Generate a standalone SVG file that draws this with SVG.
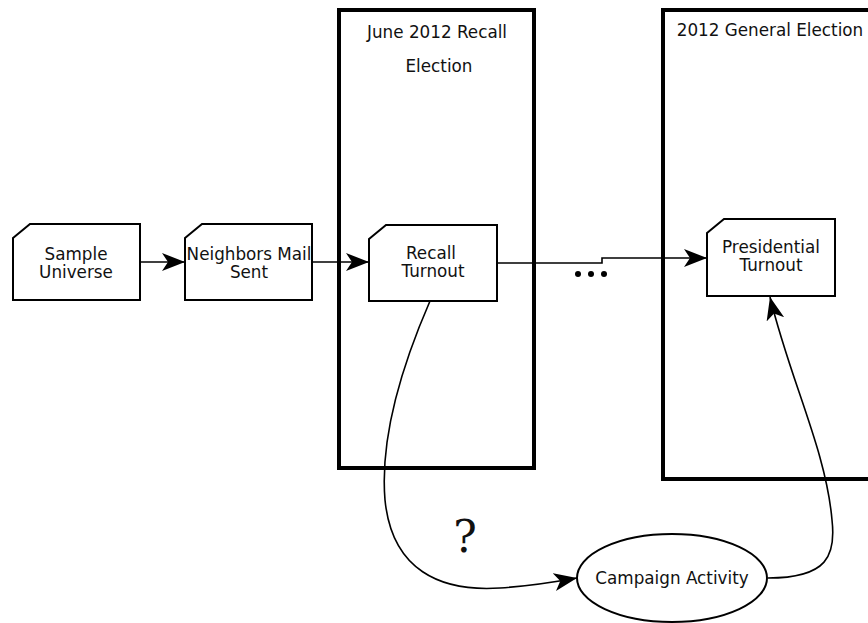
<svg xmlns="http://www.w3.org/2000/svg" width="868" height="623" viewBox="0 0 868 623">
  <style>
    .frame { fill: none; stroke: #000; stroke-width: 4; }
    .card { fill: #fff; stroke: #000; stroke-width: 2; stroke-linejoin: miter; }
    .oval { fill: #fff; stroke: #000; stroke-width: 2; }
    .lbl { font-family: "DejaVu Sans", sans-serif; font-size: 16.8px; fill: #111; text-anchor: middle; }
    .edge { fill: none; stroke: #000; stroke-width: 1.6; }
    .q { font-family: "DejaVu Serif", "Liberation Serif", serif; font-size: 44px; fill: #111; text-anchor: middle; }
  </style>
  <defs>
    <marker id="arrow" markerUnits="userSpaceOnUse" markerWidth="26" markerHeight="20" refX="23" refY="10" orient="auto">
      <path d="M0,1 L23,10 L0,19 L6,10 Z" fill="#000"/>
    </marker>
  </defs>
  <rect width="868" height="623" fill="#fff"/>

  <!-- election period frames -->
  <g id="recall-election">
    <rect class="frame" x="339" y="10" width="195" height="458"/>
    <text class="lbl" x="437" y="38">June 2012 Recall</text>
    <text class="lbl" x="439" y="72">Election</text>
  </g>
  <g id="general-election">
    <path class="frame" d="M872,10 H663 V479 H872"/>
    <text class="lbl" x="770" y="36">2012 General Election</text>
  </g>

  <!-- connectors -->
  <g id="connectors">
    <path class="edge" d="M140,262 H185" marker-end="url(#arrow)"/>
    <path class="edge" d="M312,262 H369" marker-end="url(#arrow)"/>
    <path class="edge" d="M497,263 H602 V258 H707" marker-end="url(#arrow)"/>
    <path class="edge" d="M430,301 C400,370 380,440 385,500 C392,570 440,592 500,588 C530,586 555,582 577,578" marker-end="url(#arrow)"/>
    <path class="edge" d="M768,578 C828,578 836,555 832,520 C826,450 790,380 770,297" marker-end="url(#arrow)"/>
  </g>

  <!-- nodes -->
  <g id="sample-universe">
    <path class="card" d="M13,238 L30,224 H140 V300 H13 Z"/>
    <text class="lbl" x="76" y="260">Sample</text>
    <text class="lbl" x="76" y="278">Universe</text>
  </g>
  <g id="neighbors-mail">
    <path class="card" d="M185,238 L202,224 H312 V300 H185 Z"/>
    <text class="lbl" x="249" y="260">Neighbors Mail</text>
    <text class="lbl" x="249" y="278">Sent</text>
  </g>
  <g id="recall-turnout">
    <path class="card" d="M369,239 L386,225 H497 V301 H369 Z"/>
    <text class="lbl" x="431" y="259">Recall</text>
    <text class="lbl" x="433" y="277">Turnout</text>
  </g>
  <g id="presidential-turnout">
    <path class="card" d="M707,233 L724,219 H835 V296 H707 Z"/>
    <text class="lbl" x="771" y="253">Presidential</text>
    <text class="lbl" x="771" y="271">Turnout</text>
  </g>
  <g id="campaign-activity">
    <ellipse class="oval" cx="672" cy="578" rx="95" ry="44"/>
    <text class="lbl" x="672" y="584">Campaign Activity</text>
  </g>

  <!-- ellipsis between elections -->
  <g id="ellipsis" fill="#000">
    <circle cx="578" cy="274" r="3"/>
    <circle cx="591" cy="274" r="3"/>
    <circle cx="604" cy="274" r="3"/>
  </g>

  <text class="q" x="465" y="552">?</text>
</svg>
